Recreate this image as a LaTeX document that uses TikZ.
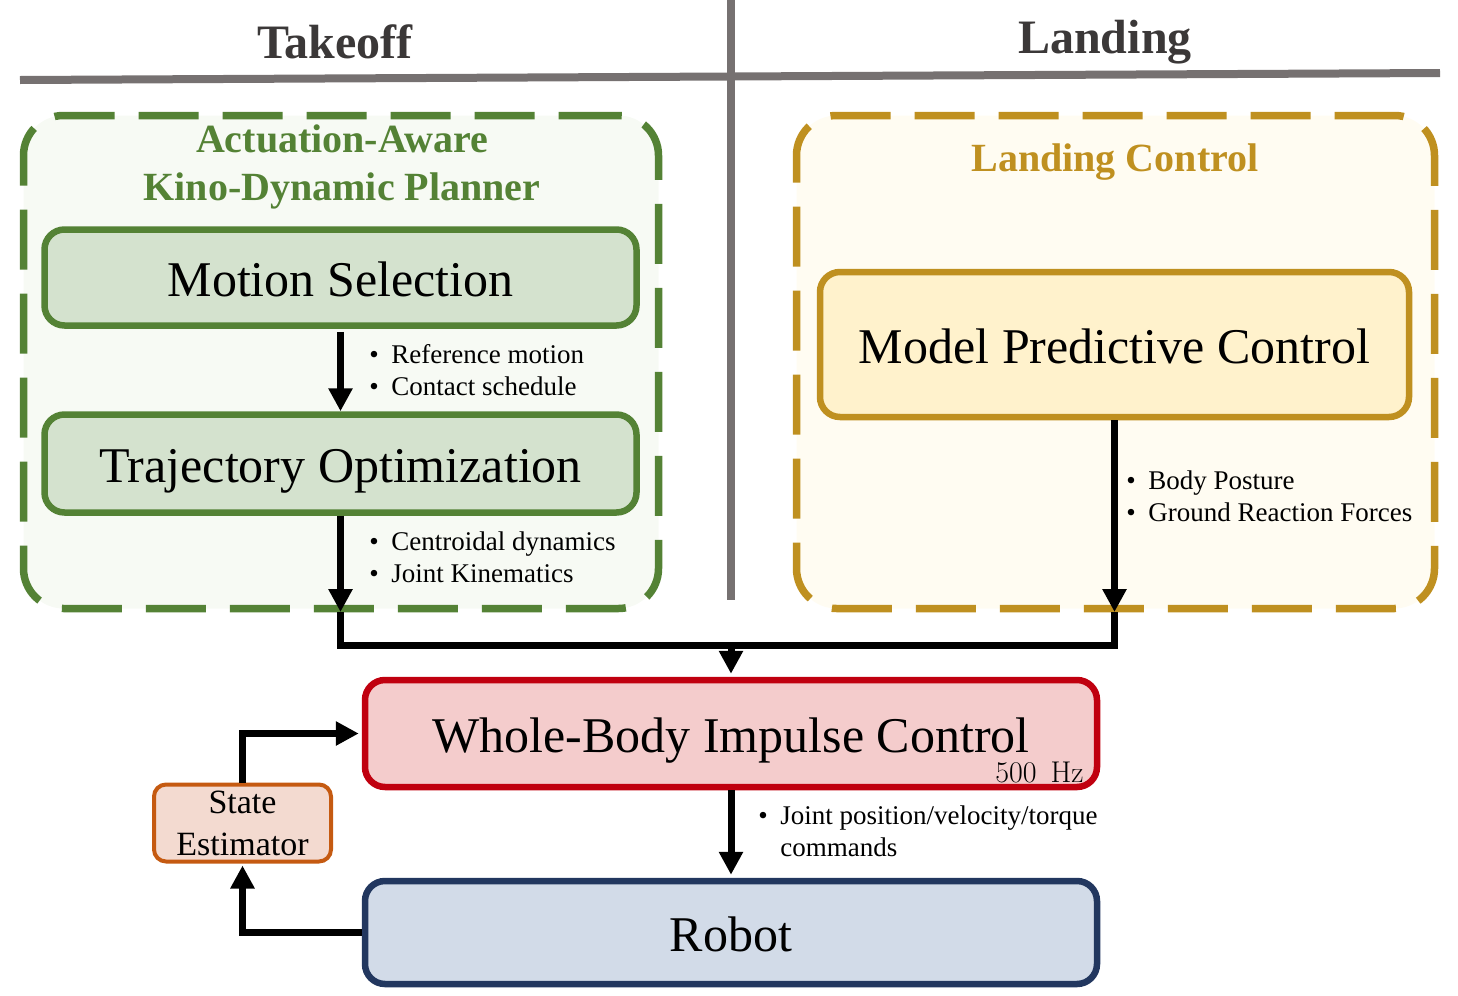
\documentclass[tikz,border=0pt]{standalone}
\usepackage{fontspec}
\newfontfamily\tnr{Liberation Serif}
\usetikzlibrary{arrows.meta}
\definecolor{sepgray}{HTML}{767171}
\definecolor{ttl}{HTML}{3B3838}
\definecolor{grn}{HTML}{548235}
\definecolor{grnfill}{HTML}{D4E2CE}
\definecolor{grnbg}{HTML}{F7FAF4}
\definecolor{gold}{HTML}{BF9020}
\definecolor{goldfill}{HTML}{FFF2CC}
\definecolor{goldbg}{HTML}{FFFCF2}
\definecolor{wred}{HTML}{C0000F}
\definecolor{wredfill}{HTML}{F4CCCC}
\definecolor{orng}{HTML}{C55A11}
\definecolor{orngfill}{HTML}{F3DAD0}
\definecolor{nblue}{HTML}{22375F}
\definecolor{nbluefill}{HTML}{D2DBE8}
\tikzset{
  outerbox/.style={draw, line width=3.75pt, dash pattern=on 30pt off 12pt, rounded corners=20pt, inner sep=0pt},
  inbox/.style={draw, line width=3.25pt, rounded corners=10pt, inner sep=0pt, text height=19pt, text depth=0pt, font=\tnr\fontsize{25}{30}\selectfont},
  arr/.style={line width=3.5pt, -{Triangle[length=11.5pt,width=11.5pt]}},
  lin/.style={line width=3.5pt},
  lbl/.style={anchor=west, inner sep=0pt, font=\tnr\fontsize{13.5}{16}\selectfont, align=left},
  sepline/.style={draw=sepgray, line width=4pt},
  phase/.style={text=ttl, inner sep=0pt, font=\tnr\bfseries\fontsize{24}{28}\selectfont},
  grouptitle/.style={inner sep=0pt, align=center, font=\tnr\bfseries\fontsize{20}{24}\selectfont}
}
\begin{document}
\begin{tikzpicture}[x=0.5pt,y=-0.5pt]
\useasboundingbox (0,0) rectangle (1458,996);
% separators
\draw[sepline] (20,80) -- (1440,73);
\draw[sepline] (731,0) -- (731,600);
\node[phase] (takeoff) at (335,42) {Takeoff};
\node[phase] (landing) at (1105,42) {Landing};
% outer groups
\node[outerbox, draw=grn, fill=grnbg, minimum width=317.5pt, minimum height=246.5pt] (planner) at (341,362) {};
\node[outerbox, draw=gold, fill=goldbg, minimum width=319pt, minimum height=246.5pt] (landctl) at (1115.5,362) {};
\node[grouptitle, text=grn] (plannertitle) at (342,167) {Actuation-Aware\\Kino-Dynamic Planner};
\node[grouptitle, text=gold] (landtitle) at (1115,162) {Landing Control};
% inner boxes
\node[inbox, draw=grn, fill=grnfill, minimum width=296pt, minimum height=48pt] (motion) at (340.5,277.5) {Motion Selection};
\node[inbox, draw=grn, fill=grnfill, minimum width=296pt, minimum height=49pt] (traj) at (340.5,463.5) {Trajectory Optimization};
\node[inbox, draw=gold, fill=goldfill, minimum width=294.5pt, minimum height=72.5pt] (mpc) at (1114.5,344.5) {Model Predictive Control};
\node[inbox, draw=wred, fill=wredfill, minimum width=366pt, minimum height=53.5pt] (wbic) at (731,733.5) {Whole-Body Impulse Control};
\node[inbox, draw=nblue, fill=nbluefill, minimum width=366pt, minimum height=51.5pt] (robot) at (731,932.5) {Robot};
\node[draw=orng, fill=orngfill, line width=2pt, rounded corners=6pt, inner sep=0pt, minimum width=88.5pt, minimum height=38.5pt, align=center, font=\tnr\fontsize{17}{21}\selectfont] (state) at (242.5,823) {State\\Estimator};
\node[inner sep=0pt, anchor=east, font=\fontsize{15}{17}\selectfont] (hz) at (1084,772) {500\hspace{7pt}Hz};
% labels
\node[lbl] (lab1) at (369,373) {\begin{tabular}{@{}p{11pt}@{}l@{}}\textbullet & Reference motion\\ \textbullet & Contact schedule\end{tabular}};
\node[lbl] (lab2) at (369,560) {\begin{tabular}{@{}p{11pt}@{}l@{}}\textbullet & Centroidal dynamics\\ \textbullet & Joint Kinematics\end{tabular}};
\node[lbl] (lab3) at (1126,499) {\begin{tabular}{@{}p{11pt}@{}l@{}}\textbullet & Body Posture\\ \textbullet & Ground Reaction Forces\end{tabular}};
\node[lbl] (lab4) at (758,834) {\begin{tabular}{@{}p{11pt}@{}l@{}}\textbullet & Joint position/velocity/torque\\ & commands\end{tabular}};
% connectors
\coordinate (jl) at (340.5,612);
\coordinate (jr) at (1114.5,612);
\coordinate (mid) at (731,645);
\draw[arr, shorten <=1.5pt] (motion.south) -- (traj.north);
\draw[arr] (traj.south) -- (jl);
\draw[arr] (mpc.south) -- (jr);
\draw[lin] (jl) |- (mid) -| (jr);
\draw[arr, shorten >=1.5pt] (mid) -- (wbic.north);
\draw[arr, shorten >=1.5pt] (wbic.south) -- (robot.north);
\draw[arr, shorten >=1pt] (robot.west) -| (state.south);
\draw[arr, shorten >=1.5pt] (state.north) |- (wbic.west);
\end{tikzpicture}
\end{document}
